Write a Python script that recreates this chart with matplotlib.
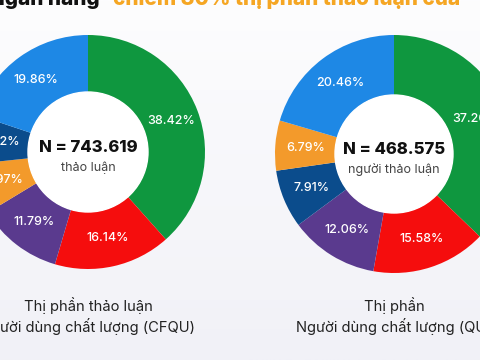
import numpy as np
import matplotlib
matplotlib.use('Agg')
import matplotlib.pyplot as plt
from matplotlib.patches import Circle

plt.rcParams['font.family'] = ['Inter', 'DejaVu Sans']

# slice order: clockwise from 12 o'clock
left_shares = [38.42, 16.14, 11.79, 6.97, 6.82, 19.86]
left_colors = ['#0f973f', '#f50d0d', '#5a3a8e', '#f39a2b', '#0b4c8c', '#1e88e5']
right_shares = [37.20, 15.58, 12.06, 7.91, 6.79, 20.46]
right_colors = ['#0f973f', '#f50d0d', '#5a3a8e', '#0b4c8c', '#f39a2b', '#1e88e5']

left_total = 'N = 743.619'
left_unit = 'thảo luận'
right_total = 'N = 468.575'
right_unit = 'người thảo luận'
left_caption = 'Thị phần thảo luận\nNgười dùng chất lượng (CFQU)'
right_caption = 'Thị phần\nNgười dùng chất lượng (QU)'

fig = plt.figure(figsize=(4.8, 3.6), dpi=100)

# soft background gradient
bg = fig.add_axes([0, 0, 1, 1])
bg.axis('off')
grad = np.linspace(0, 1, 256).reshape(-1, 1)
bg.imshow(grad, aspect='auto', extent=[0, 1, 0, 1],
          cmap=matplotlib.colors.LinearSegmentedColormap.from_list(
              'bg', ['#f1f1f7', '#fdfdfe']), origin='lower')

ax = fig.add_axes([0, 0, 1, 1])
ax.patch.set_alpha(0)


def donut(ax, shares, colors, center, r_out, r_in, total, unit):
    mid = (r_out + r_in) / 2 / r_out
    _, _, autotexts = ax.pie(shares, colors=colors, center=center, radius=r_out,
                             startangle=90, counterclock=False,
                             autopct='%.2f%%', pctdistance=mid,
                             wedgeprops=dict(width=r_out - r_in, edgecolor='none'))
    for t in autotexts:
        t.set_color('white')
        t.set_fontsize(9)
        t.set_fontweight('medium')
    ax.add_patch(Circle(center, r_in, color='white', zorder=3))
    ax.text(center[0], center[1] + 4, total, ha='center', va='center',
            fontsize=12, fontweight='heavy', color='#111111', zorder=4)
    ax.text(center[0], center[1] - 16, unit, ha='center', va='center',
            fontsize=9, color='#444444', zorder=4)


donut(ax, left_shares, left_colors, (88, 208), 117, 60, left_total, left_unit)
donut(ax, right_shares, right_colors, (394, 206), 119, 59, right_total, right_unit)

ax.text(88, 44, left_caption, ha='center', va='center', fontsize=10.6,
        color='#222222', linespacing=1.3)
ax.text(394, 44, right_caption, ha='center', va='center', fontsize=10.6,
        color='#222222', linespacing=1.3)

# title, cut off by the top edge
ax.text(100, 355, 'Các ngân hàng', ha='right', va='baseline', fontsize=15,
        fontweight='heavy', color='#111111')
ax.text(113, 355, 'chiếm 80% thị phần thảo luận của', ha='left', va='baseline',
        fontsize=15, fontweight='heavy', color='#f5a623')

ax.set_xlim(0, 480)
ax.set_ylim(0, 360)
ax.set_aspect('auto')
ax.axis('off')

fig.savefig('out.png', dpi=100)
